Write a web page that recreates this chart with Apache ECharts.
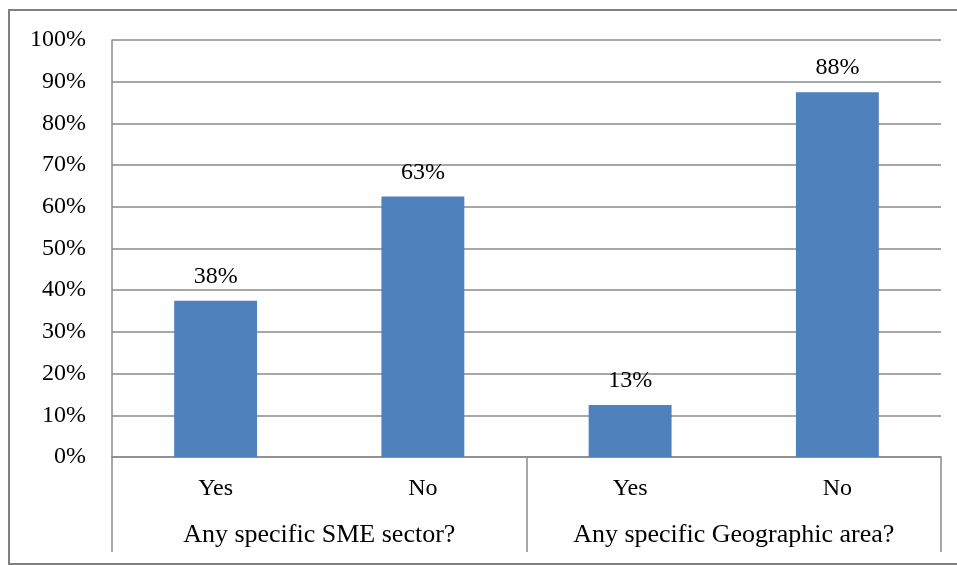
<!DOCTYPE html>
<html>
<head>
<meta charset="utf-8">
<script src="https://cdn.jsdelivr.net/npm/echarts@6/dist/echarts.min.js"></script>
<style>html,body{margin:0;padding:0;background:#fff;}#chart{width:957px;height:565px;}</style>
</head>
<body>
<div id="chart"></div>
<script>
var categories = ['Yes', 'No', 'Yes', 'No'];
var groups = ['Any specific SME sector?', 'Any specific Geographic area?'];
var values = [37.5, 62.5, 12.5, 87.5];
var yTicks = [0, 10, 20, 30, 40, 50, 60, 70, 80, 90, 100];

var font = 'Liberation Serif';
var gray = '#8a8a8a';
var fs = 24;
var chart = echarts.init(document.getElementById('chart'));
chart.setOption({
  animation: false,
  graphic: [{
    type: 'rect',
    shape: { x: 9, y: 10, width: 960, height: 554 },
    style: { fill: 'none', stroke: '#7f7f7f', lineWidth: 2 },
    silent: true
  }],
  grid: { left: 112, top: 40, right: 16, bottom: 108, containLabel: false },
  xAxis: [{
    type: 'category', data: categories, position: 'bottom',
    axisLine: { show: true, lineStyle: { color: gray, width: 1.5 } },
    axisTick: { show: false },
    axisLabel: { color: '#000', fontFamily: font, fontSize: fs, margin: 20, interval: 0 }
  }, {
    type: 'category', data: groups, position: 'bottom', offset: 0,
    axisLine: { show: false },
    axisTick: { show: true, interval: 0, length: 95, lineStyle: { color: gray, width: 1.5 } },
    axisLabel: { color: '#000', fontFamily: font, fontSize: 26, margin: 65, interval: 0, hideOverlap: false }
  }],
  yAxis: {
    type: 'value', min: yTicks[0], max: yTicks[yTicks.length - 1], interval: 10,
    axisLine: { show: true, lineStyle: { color: gray, width: 1.5 } },
    axisTick: { show: false },
    splitLine: { show: true, lineStyle: { color: gray, width: 1.5 } },
    axisLabel: { color: '#000', fontFamily: font, fontSize: fs, margin: 26, formatter: '{value}%' }
  },
  series: [{
    type: 'bar', data: values, xAxisIndex: 0, barWidth: '40%',
    itemStyle: { color: '#4F81BD' },
    label: {
      show: true, position: 'top', distance: 12, color: '#000',
      fontFamily: font, fontSize: fs,
      formatter: function (p) { return Math.round(p.value) + '%'; }
    }
  }]
});
</script>
</body>
</html>
